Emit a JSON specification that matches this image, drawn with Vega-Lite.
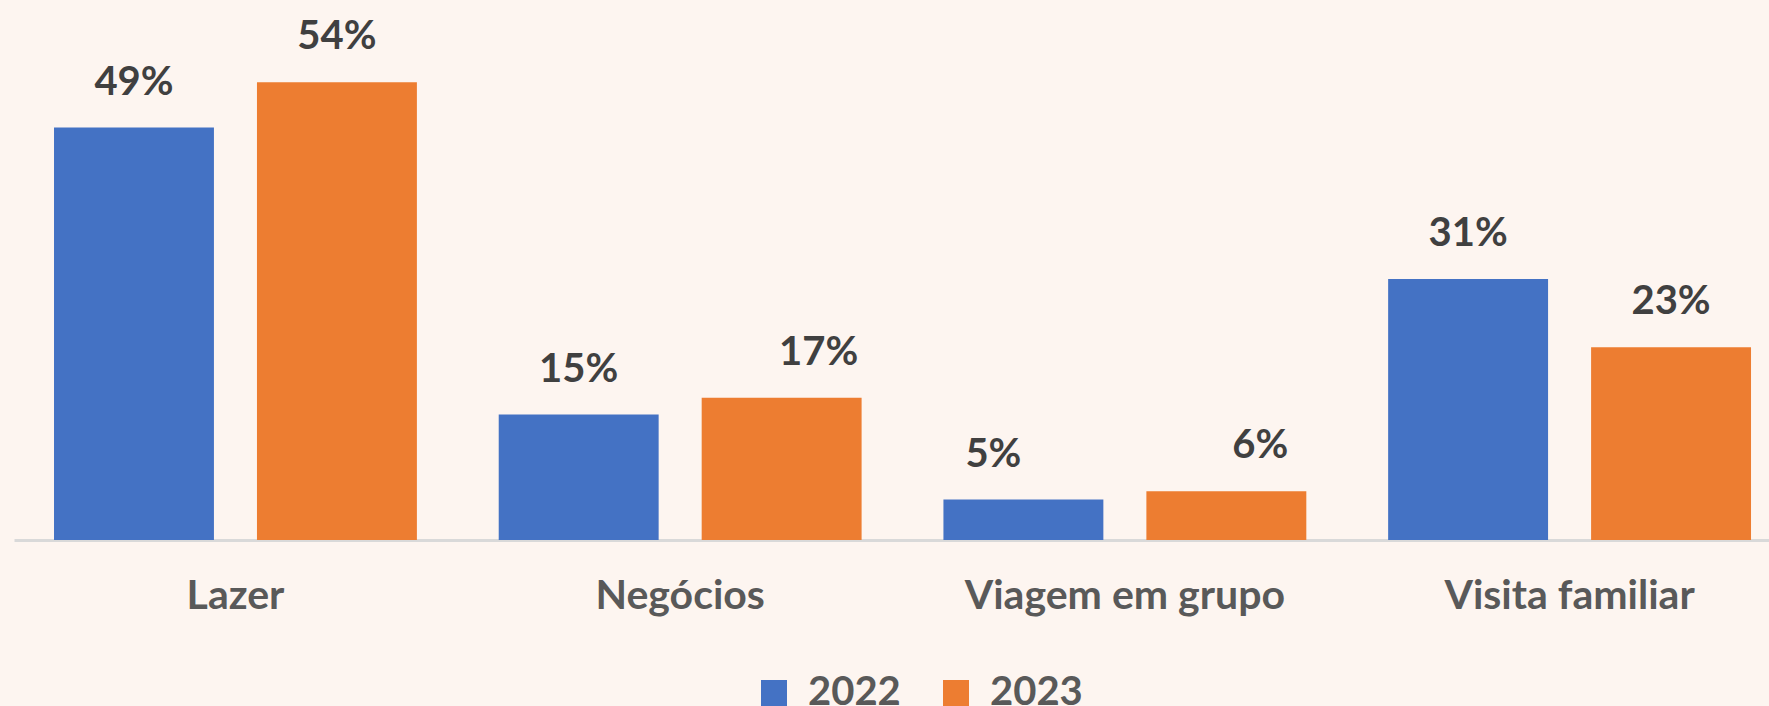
{
  "$schema": "https://vega.github.io/schema/vega-lite/v6.json",
  "width": 1755,
  "height": 505,
  "autosize": {"type": "none"},
  "padding": {"left": 14, "top": 35, "right": 0, "bottom": 166},
  "background": "#fdf5f0",
  "config": {"view": {"stroke": null}, "font": "Lato"},
  "data": {
    "values": [
      {"categoria": "Lazer", "ano": "2022", "valor": 0.49},
      {"categoria": "Lazer", "ano": "2023", "valor": 0.544},
      {"categoria": "Negócios", "ano": "2022", "valor": 0.149},
      {"categoria": "Negócios", "ano": "2023", "valor": 0.169},
      {"categoria": "Viagem em grupo", "ano": "2022", "valor": 0.048},
      {"categoria": "Viagem em grupo", "ano": "2023", "valor": 0.058},
      {"categoria": "Visita familiar", "ano": "2022", "valor": 0.31},
      {"categoria": "Visita familiar", "ano": "2023", "valor": 0.229}
    ]
  },
  "encoding": {
    "x": {
      "field": "categoria",
      "type": "nominal",
      "sort": ["Lazer", "Negócios", "Viagem em grupo", "Visita familiar"],
      "scale": {"paddingInner": 0.184, "paddingOuter": 0.0652, "align": 0.69},
      "axis": {
        "title": null,
        "labelAngle": 0,
        "ticks": false,
        "domainColor": "#d9d9d9",
        "domainWidth": 3,
        "labelFont": "Lato",
        "labelFontWeight": "bold",
        "labelFontSize": 41,
        "labelColor": "#595959",
        "labelPadding": 36,
        "labelLimit": 0
      }
    },
    "xOffset": {
      "field": "ano",
      "type": "nominal",
      "scale": {"paddingInner": 0.212, "paddingOuter": 0}
    },
    "y": {
      "field": "valor",
      "type": "quantitative",
      "scale": {"domain": [0, 0.6]},
      "axis": null
    }
  },
  "layer": [
    {
      "mark": {"type": "bar"},
      "encoding": {
        "color": {
          "field": "ano",
          "type": "nominal",
          "scale": {"domain": ["2022", "2023"], "range": ["#4472C4", "#ED7D31"]},
          "legend": {
            "title": null,
            "orient": "none",
            "direction": "horizontal",
            "legendX": 740,
            "legendY": 638,
            "symbolType": "square",
            "symbolSize": 676,
            "symbolStrokeWidth": 0,
            "symbolOpacity": 1,
            "labelFont": "Lato",
            "labelFontWeight": "bold",
            "labelFontSize": 40,
            "labelColor": "#595959",
            "labelOffset": 14,
            "columnPadding": 35
          }
        }
      }
    },
    {
      "transform": [{"filter": "datum.categoria != 'Viagem em grupo' && !(datum.categoria == 'Negócios' && datum.ano == '2023')"}],
      "mark": {"type": "text", "dy": -33, "baseline": "alphabetic", "font": "Lato", "fontWeight": "bold", "fontSize": 40, "color": "#404040"},
      "encoding": {"text": {"field": "valor", "type": "quantitative", "format": ".0%"}}
    },
    {
      "transform": [{"filter": "datum.categoria == 'Negócios' && datum.ano == '2023'"}],
      "mark": {"type": "text", "dy": -33, "dx": 37, "baseline": "alphabetic", "font": "Lato", "fontWeight": "bold", "fontSize": 40, "color": "#404040"},
      "encoding": {"text": {"field": "valor", "type": "quantitative", "format": ".0%"}}
    },
    {
      "transform": [{"filter": "datum.categoria == 'Viagem em grupo' && datum.ano == '2022'"}],
      "mark": {"type": "text", "dy": -33, "dx": -30, "baseline": "alphabetic", "font": "Lato", "fontWeight": "bold", "fontSize": 40, "color": "#404040"},
      "encoding": {"text": {"field": "valor", "type": "quantitative", "format": ".0%"}}
    },
    {
      "transform": [{"filter": "datum.categoria == 'Viagem em grupo' && datum.ano == '2023'"}],
      "mark": {"type": "text", "dy": -33, "dx": 34, "baseline": "alphabetic", "font": "Lato", "fontWeight": "bold", "fontSize": 40, "color": "#404040"},
      "encoding": {"text": {"field": "valor", "type": "quantitative", "format": ".0%"}}
    }
  ]
}
